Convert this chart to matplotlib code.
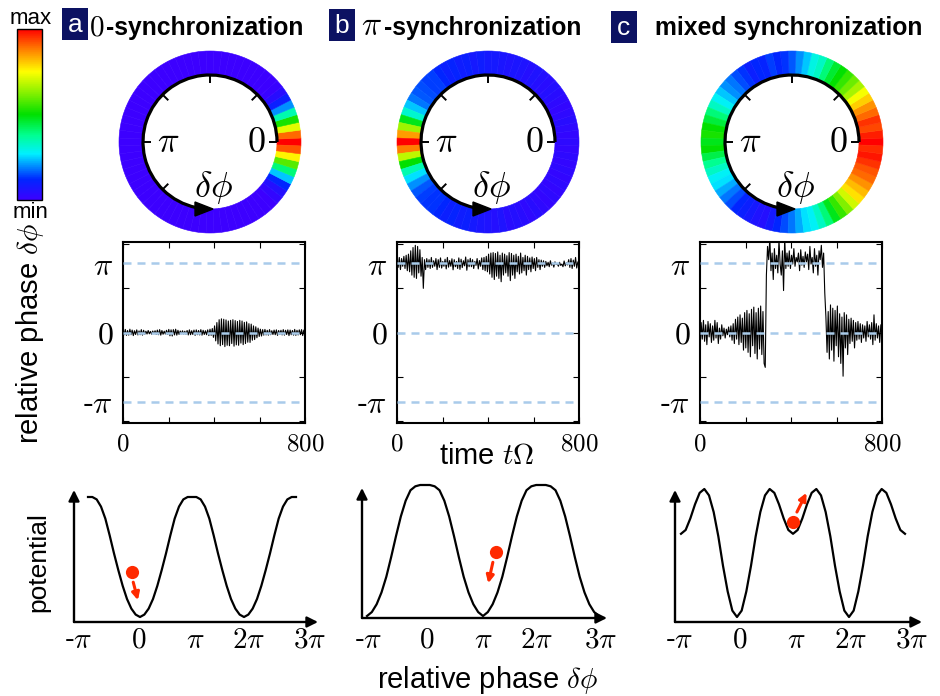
"""
Three synchronization regimes: phase-distribution rings, relative-phase
time traces and the sketched potential landscapes.
"""

import matplotlib
matplotlib.use("Agg")
import matplotlib.pyplot as plt
import numpy as np
from matplotlib.cm import ScalarMappable
from matplotlib.colors import LinearSegmentedColormap
from matplotlib.patches import Arc, Polygon, Rectangle, Wedge

plt.rcParams["mathtext.fontset"] = "cm"
plt.rcParams["font.family"] = ["Liberation Sans", "DejaVu Sans"]

W, H = 940, 696

# ---------------------------------------------------------------------------
# ring colour values, one per 5 deg bin starting at 0 (right), counter-clockwise
ring_a = [1.00, 0.90, 0.72, 0.52, 0.35, 0.20, 0.10, 0.04, 0.01, 0.00,
          0.00, 0.00, 0.00, 0.00, 0.00, 0.00, 0.00, 0.00, 0.00, 0.00,
          0.00, 0.00, 0.00, 0.00, 0.00, 0.00, 0.00, 0.00, 0.00, 0.00,
          0.00, 0.00, 0.00, 0.00, 0.00, 0.00, 0.00, 0.00, 0.00, 0.00,
          0.00, 0.00, 0.00, 0.00, 0.00, 0.00, 0.00, 0.00, 0.00, 0.00,
          0.00, 0.00, 0.00, 0.00, 0.00, 0.00, 0.00, 0.00, 0.00, 0.00,
          0.00, 0.00, 0.00, 0.00, 0.02, 0.05, 0.12, 0.24, 0.40, 0.58,
          0.76, 0.92]
ring_b = [0.03, 0.02, 0.03, 0.04, 0.03, 0.02, 0.03, 0.04, 0.05, 0.04,
          0.05, 0.06, 0.05, 0.06, 0.07, 0.06, 0.07, 0.08, 0.08, 0.09,
          0.08, 0.10, 0.09, 0.11, 0.10, 0.12, 0.14, 0.14, 0.15, 0.16,
          0.18, 0.24, 0.32, 0.48, 0.65, 0.85, 1.00, 0.88, 0.68, 0.50,
          0.35, 0.26, 0.20, 0.16, 0.14, 0.13, 0.13, 0.12, 0.10, 0.11,
          0.09, 0.10, 0.08, 0.07, 0.06, 0.05, 0.06, 0.04, 0.05, 0.04,
          0.03, 0.04, 0.03, 0.02, 0.03, 0.02, 0.03, 0.02, 0.03, 0.02,
          0.03, 0.02]
ring_c = [1.00, 0.97, 0.93, 0.95, 0.90, 0.86, 0.80, 0.74, 0.66, 0.60,
          0.55, 0.50, 0.46, 0.40, 0.33, 0.30, 0.24, 0.20, 0.16, 0.13,
          0.12, 0.14, 0.11, 0.12, 0.10, 0.13, 0.15, 0.18, 0.20, 0.24,
          0.28, 0.33, 0.40, 0.45, 0.50, 0.52, 0.48, 0.50, 0.44, 0.38,
          0.33, 0.28, 0.26, 0.22, 0.18, 0.15, 0.12, 0.10, 0.08, 0.06,
          0.05, 0.08, 0.12, 0.15, 0.18, 0.22, 0.26, 0.28, 0.33, 0.40,
          0.48, 0.55, 0.62, 0.70, 0.78, 0.82, 0.86, 0.90, 0.92, 0.95,
          0.98, 0.96]

# relative phase traces (rad), sampled evenly over t = 0 .. 800
phase_a = [0.12, -0.10, 0.14, -0.13, 0.09, -0.12, 0.15, -0.10, 0.11, -0.14,
           0.08, -0.09, 0.12, -0.11, 0.07, -0.10, 0.13, -0.12, 0.10, -0.08,
           0.06, -0.07, 0.09, -0.06, 0.05, -0.08, 0.07, -0.06, 0.08, -0.09,
           0.11, -0.10, 0.13, -0.12, 0.09, -0.08, 0.06, -0.07, 0.10, -0.09,
           0.14, -0.15, 0.12, -0.16, 0.13, -0.11, 0.15, -0.12, 0.10, -0.09,
           0.07, -0.06, 0.08, -0.07, 0.06, -0.08, 0.09, -0.11, 0.12, -0.10,
           0.08, -0.09, 0.11, -0.13, 0.12, -0.10, 0.09, -0.11, 0.13, -0.12,
           0.10, -0.09, 0.08, -0.10, 0.12, -0.14, 0.15, -0.13, 0.18, -0.22,
           0.30, -0.38, 0.45, -0.52, 0.58, -0.60, 0.62, -0.55, 0.60, -0.64,
           0.57, -0.58, 0.52, -0.60, 0.55, -0.50, 0.58, -0.62, 0.54, -0.56,
           0.50, -0.58, 0.55, -0.48, 0.52, -0.55, 0.46, -0.50, 0.48, -0.44,
           0.40, -0.45, 0.38, -0.35, 0.30, -0.32, 0.26, -0.24, 0.20, -0.18,
           0.15, -0.16, 0.13, -0.12, 0.14, -0.11, 0.10, -0.12, 0.13, -0.10,
           0.08, -0.09, 0.11, -0.10, 0.12, -0.13, 0.09, -0.08, 0.10, -0.11,
           0.13, -0.12, 0.10, -0.09, 0.12, -0.14, 0.11, -0.10, 0.09, -0.12,
           0.14, -0.13, 0.10, -0.11, 0.12, -0.10, 0.13, -0.14, 0.11, -0.10]
phase_b = [3.30, 2.95, 3.40, 2.85, 3.35, 3.00, 3.45, 2.90, 3.50, 2.80,
           3.55, 2.75, 3.70, 2.60, 3.85, 2.50, 3.95, 2.45, 3.90, 2.70,
           3.75, 2.55, 3.40, 2.00, 3.30, 2.85, 3.35, 2.95, 3.30, 2.90,
           3.40, 2.95, 3.25, 3.00, 3.35, 2.85, 3.30, 2.95, 3.38, 2.92,
           3.22, 3.00, 3.32, 2.88, 3.40, 2.96, 3.26, 3.00, 3.34, 2.84,
           3.30, 2.98, 3.22, 2.90, 3.38, 2.86, 3.32, 2.94, 3.25, 3.02,
           3.42, 2.82, 3.30, 2.98, 3.36, 2.98, 3.30, 2.90, 3.22, 3.04,
           3.35, 2.88, 3.26, 3.00, 3.38, 2.85, 3.40, 2.80, 3.45, 2.75,
           3.55, 2.65, 3.60, 2.50, 3.62, 2.40, 3.58, 2.55, 3.65, 2.45,
           3.50, 2.30, 3.60, 2.60, 3.55, 2.70, 3.48, 2.55, 3.62, 2.35,
           3.58, 2.60, 3.50, 2.45, 3.55, 2.75, 3.45, 2.65, 3.60, 2.70,
           3.40, 2.80, 3.50, 2.60, 3.45, 2.85, 3.38, 2.75, 3.42, 2.90,
           3.35, 2.80, 3.40, 2.95, 3.30, 2.85, 3.28, 3.00, 3.25, 2.95,
           3.22, 3.02, 3.18, 2.98, 3.25, 3.05, 3.15, 2.96, 3.20, 3.08,
           3.12, 3.00, 3.18, 3.04, 3.10, 2.98, 3.24, 3.02, 3.16, 3.06,
           3.30, 2.95, 3.35, 2.90, 3.28, 3.00, 3.40, 2.92, 3.20, 3.05]
phase_c = [-0.95, 0.45, -0.30, 0.55, -0.40, 0.35, -0.55, 0.50, -0.20, 0.40,
           -0.45, 0.30, -0.35, 0.55, -0.25, 0.45, -0.50, 0.20, -0.30, 0.35,
           -0.15, 0.20, -0.25, 0.15, -0.10, 0.25, -0.20, 0.30, -0.35, 0.40,
           -0.50, 0.60, -0.30, 0.70, -0.55, 0.80, -0.45, 0.65, -0.80, 0.90,
           -0.70, 1.00, -0.90, 0.85, -1.10, 1.05, -0.60, 1.15, -0.95, 0.90,
           -1.20, 1.10, -0.75, 1.20, -1.00, 0.95, -1.40, -1.58,
           2.60, 3.90, 3.30, 4.30, 2.80, 3.60, 2.40, 3.80, 2.90, 3.50,
           2.70, 4.20, 3.10, 2.60, 3.70, 1.90, 4.30, 2.90, 3.60, 3.00,
           3.70, 2.90, 3.50, 3.10, 3.80, 3.00, 3.40, 3.20, 3.60, 2.80,
           3.75, 3.05, 3.45, 2.95, 3.65, 3.20, 3.55, 2.85, 3.90, 3.10,
           3.40, 2.70, 3.80, 3.00, 3.50, 2.60, 3.70, 3.30, 3.95, 2.95, 3.60,
           1.80, 0.70,
           -0.90, 0.95, -1.20, 1.25, -0.80, 1.10, -1.30, 1.00, -0.60, 1.20,
           -1.10, 0.85, -1.40, 0.70, -1.98, 0.90, -0.70, 0.80, -1.00, 0.60,
           -0.50, 0.65, -0.40, 0.55, -0.70, 0.45, -0.35, 0.50, -0.30, 0.40,
           -0.45, 0.35, -0.25, 0.30, -0.40, 0.50, -0.20, 0.35, -0.30, 0.45,
           -0.55, 0.80, -0.35, 0.40, -0.25, 0.30, -0.45, 0.35, -0.20]

# potential sketches, sampled every pi/12 from -pi to 3pi (x in units of pi)
pot_x = [k / 12 for k in range(-12, 37)]
pot_a = [1.00, 1.00, 0.98, 0.92, 0.82, 0.68, 0.53, 0.39, 0.26, 0.15, 0.07, 0.02, 0.00,
         0.02, 0.07, 0.15, 0.26, 0.39, 0.53, 0.68, 0.82, 0.92, 0.98, 1.00, 1.00,
         1.00, 0.98, 0.92, 0.82, 0.68, 0.53, 0.39, 0.26, 0.15, 0.07, 0.02, 0.00,
         0.02, 0.07, 0.15, 0.26, 0.39, 0.53, 0.68, 0.82, 0.92, 0.98, 1.00, 1.00]
pot_b = [0.00, 0.03, 0.09, 0.18, 0.30, 0.45, 0.61, 0.76, 0.88, 0.96, 0.99, 1.00, 1.00,
         1.00, 0.99, 0.96, 0.88, 0.76, 0.61, 0.45, 0.30, 0.18, 0.09, 0.03, 0.00,
         0.03, 0.09, 0.18, 0.30, 0.45, 0.61, 0.76, 0.88, 0.96, 0.99, 1.00, 1.00,
         1.00, 0.99, 0.96, 0.88, 0.76, 0.61, 0.45, 0.30, 0.18, 0.09, 0.03, 0.00]
pot_c = [0.65, 0.68, 0.77, 0.88, 0.97, 1.00, 0.95, 0.82, 0.63, 0.40, 0.20, 0.05, 0.00,
         0.05, 0.20, 0.40, 0.63, 0.82, 0.95, 1.00, 0.97, 0.88, 0.77, 0.68, 0.65,
         0.68, 0.77, 0.88, 0.97, 1.00, 0.95, 0.82, 0.63, 0.40, 0.20, 0.05, 0.00,
         0.05, 0.20, 0.40, 0.63, 0.82, 0.95, 1.00, 0.97, 0.88, 0.77, 0.68, 0.65]

# red ball (x in pi, V) and its arrow (start, end)
balls = [(-0.16, 0.375), (1.22, 0.49), (1.00, 0.74)]
ball_arrows = [((-0.13, 0.29), (-0.04, 0.14)),
               ((1.17, 0.41), (1.09, 0.25)),
               ((1.07, 0.82), (1.24, 0.97))]

pot_ticks = ["-$\\pi$", "$0$", "$\\pi$", "$2\\pi$", "$3\\pi$"]
pot_tick_pos = [[-1.19, -0.02, 1.06, 2.09, 3.27],
                [-0.98, 0.03, 1.00, 1.93, 3.02],
                [-1.04, 0.04, 1.05, 2.02, 3.11]]

ring_ticks_deg = [0, 45, 90, 135, 180, 225]

RED = "#ff2a00"
DASH = "#a9cbea"
NAVY = "#0c1262"

cmap = LinearSegmentedColormap.from_list("ring", [
    (0.00, "#3c00ff"), (0.12, "#0026ff"), (0.20, "#0090ff"),
    (0.27, "#00f0ff"), (0.38, "#00ff90"), (0.50, "#00e000"),
    (0.62, "#80f000"), (0.75, "#ffff00"), (0.88, "#ff8000"),
    (1.00, "#ff0000")])


def px(x, y):
    return x / W, 1 - y / H


def pix_axes(fig, box, x0, sx, y0, sy):
    """Axes covering pixel box (L, R, T, B) where data (0,0) sits at (x0, y0)."""
    L, R, T, B = box
    ax = fig.add_axes([L / W, 1 - B / H, (R - L) / W, (B - T) / H])
    ax.set_xlim((L - x0) / sx, (R - x0) / sx)
    ax.set_ylim((y0 - B) / sy, (y0 - T) / sy)
    ax.axis("off")
    return ax


fig = plt.figure(figsize=(W / 100, H / 100), dpi=100)
fig.patch.set_facecolor("white")

# ---- colour bar -----------------------------------------------------------
cax = fig.add_axes([17 / W, 1 - 200 / H, 25 / W, 171 / H])
cb = fig.colorbar(ScalarMappable(cmap=cmap), cax=cax, ticks=[])
cb.outline.set_linewidth(1.0)
fig.text(*px(31, 19), "max", ha="center", va="center", fontsize=16)
fig.text(*px(31, 213), "min", ha="center", va="center", fontsize=16)

# ---- titles ---------------------------------------------------------------
for letter, (L, T, R, B) in zip("abc", [(62, 8, 88, 40), (329, 9, 355, 41),
                                       (611, 11, 637, 43)]):
    fig.add_artist(Rectangle(px(L, B), (R - L) / W, (B - T) / H,
                             transform=fig.transFigure, facecolor=NAVY,
                             edgecolor="none"))
    fig.text(*px((L + R) / 2, (T + B) / 2 + 1), letter, color="white",
             ha="center", va="center", fontsize=19)

fig.text(*px(89, 35), "$0$", fontsize=21, va="baseline")
fig.text(*px(106, 35), "-synchronization", fontsize=17.8,
         fontweight="bold", va="baseline")
fig.text(*px(361, 35), "$\\pi$", fontsize=24, va="baseline")
fig.text(*px(384, 35), "-synchronization", fontsize=17.8,
         fontweight="bold", va="baseline")
fig.text(*px(655, 35), "mixed synchronization", fontsize=17.8,
         fontweight="bold", va="baseline")

# ---- rings ----------------------------------------------------------------
R_OUT, R_IN = 91, 67
for cx, vals in zip([210, 488, 792], [ring_a, ring_b, ring_c]):
    ax = pix_axes(fig, (cx - 100, cx + 100, 42, 242), cx, 1, 142, 1)
    step = 360 / len(vals)
    for i, v in enumerate(vals):
        col = cmap(v)
        ax.add_patch(Wedge((0, 0), R_OUT, i * step - step / 2,
                           i * step + step / 2, width=R_OUT - R_IN,
                           facecolor=col, edgecolor=col, lw=0.4))
    ax.add_patch(Arc((0, 0), 2 * R_IN, 2 * R_IN, theta1=0, theta2=258,
                     color="k", lw=2.3))
    ax.add_patch(Polygon([(-15, -R_IN + 7), (-15, -R_IN - 7), (3, -R_IN)],
                         closed=True, color="k"))
    for a in np.deg2rad(ring_ticks_deg):
        ax.plot([R_IN * np.cos(a), (R_IN - 8) * np.cos(a)],
                [R_IN * np.sin(a), (R_IN - 8) * np.sin(a)],
                color="k", lw=1.4, solid_capstyle="butt")
    ax.text(-42, 0, "$\\pi$", ha="center", va="center", fontsize=26)
    ax.text(46, 0, "$0$", ha="center", va="center", fontsize=26)
    ax.text(3, -46, "$\\delta\\phi$", ha="center", va="center", fontsize=26)

# ---- relative phase traces ------------------------------------------------
for L, vals in zip([123, 397, 700], [phase_a, phase_b, phase_c]):
    ax = fig.add_axes([L / W, 1 - 423 / H, 182 / W, 181 / H])
    t = np.linspace(0, 800, len(vals))
    ax.plot(t, vals, color="k", lw=0.8, zorder=2)
    for y in (-np.pi, 0.0, np.pi):
        ax.axhline(y, color=DASH, lw=1.8, ls=(0, (3.2, 2.4)), zorder=3)
    ax.set_xlim(0, 800)
    ax.set_ylim(-4.1, 4.1)
    ax.yaxis.remove_overlapping_locs = False
    ax.set_xticks([0, 200, 400, 600, 800],
                  labels=["$0$", "", "", "", "$800$"])
    ax.set_yticks([-4, -2, 0, 2, 4], labels=[])
    ax.set_yticks([-np.pi, 0, np.pi], labels=["-$\\pi$", "$0$", "$\\pi$"],
                  minor=True)
    ax.tick_params(which="major", direction="in", length=4, width=0.8,
                   top=True, right=True, labelsize=18, pad=6)
    ax.tick_params(which="minor", axis="y", length=0, labelsize=23, pad=7)
    for s in ax.spines.values():
        s.set_linewidth(1.5)

fig.text(*px(30, 333), "relative phase $\\delta\\phi$", rotation=90,
         ha="center", va="center", fontsize=21)
fig.text(*px(487, 456), "time $t\\Omega$", ha="center", va="center",
         fontsize=21)

# ---- potentials -----------------------------------------------------------
# (pixel box, x of 0, px per pi, y of V=0, px per unit V, axis x, axis y, tips)
pot_geo = [
    ((55, 330, 478, 660), 140, 52, 617, 120, (74, 622), (318, 490)),
    ((345, 620, 478, 660), 425, 58, 616, 131, (362, 618), (607, 488)),
    ((655, 935, 478, 660), 737, 56, 617, 128, (675, 622), (922, 490)),
]
for i, (geo, vals) in enumerate(zip(pot_geo, [pot_a, pot_b, pot_c])):
    box, x0, sx, y0, sy, (axx, axy), (tipx, tipy) = geo
    ax = pix_axes(fig, box, x0, sx, y0, sy)
    X0, V0 = (axx - x0) / sx, (y0 - axy) / sy
    Xt, Vt = (tipx - x0) / sx, (y0 - tipy) / sy
    arrow = dict(arrowstyle="-|>", color="k", lw=1.7, mutation_scale=16,
                 shrinkA=0, shrinkB=0)
    ax.annotate("", xy=(X0, Vt), xytext=(X0, V0), arrowprops=arrow,
                annotation_clip=False)
    ax.annotate("", xy=(Xt, V0), xytext=(X0, V0), arrowprops=arrow,
                annotation_clip=False)
    ax.plot(pot_x, vals, color="k", lw=1.6, solid_joinstyle="round")
    bx, by = balls[i]
    ax.plot(bx, by, "o", color=RED, ms=9.5, mec="none")
    (sx0, sy0), (ex, ey) = ball_arrows[i]
    ax.annotate("", xy=(ex, ey), xytext=(sx0, sy0),
                arrowprops=dict(arrowstyle="-|>", color=RED, lw=2.2,
                                mutation_scale=11, shrinkA=0, shrinkB=0))
    ylab = (y0 - 640) / sy
    for p, lab in zip(pot_tick_pos[i], pot_ticks):
        ax.text(p, ylab, lab, ha="center", va="center", fontsize=21)

fig.text(*px(38, 562), "potential", rotation=90, ha="center", va="center",
         fontsize=19)
fig.text(*px(488, 680), "relative phase $\\delta\\phi$", ha="center",
         va="center", fontsize=21)

fig.savefig("out.png", dpi=100, facecolor="white")
